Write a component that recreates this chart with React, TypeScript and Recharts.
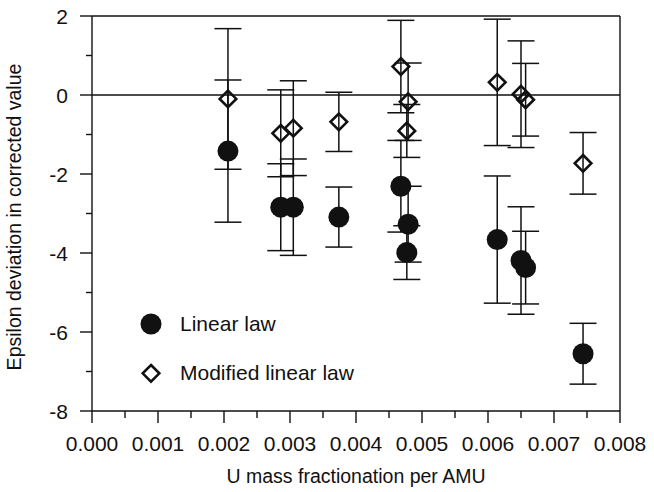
import {
    ScatterChart,
    Scatter,
    XAxis,
    YAxis,
    ErrorBar,
    ReferenceLine,
    Legend,
} from "recharts";

const FONT = '"Liberation Sans", Arial, sans-serif';
const INK = "#111";

// fractionation per AMU for each run
const X_VALUES = [0.00206, 0.00286, 0.00305, 0.00374, 0.00468, 0.00477, 0.00479, 0.00614, 0.0065, 0.00657, 0.00744];

const LINEAR = [-1.42, -2.84, -2.84, -3.09, -2.31, -3.99, -3.27, -3.66, -4.19, -4.37, -6.55];
const LINEAR_ERR = [1.8, 1.1, 1.22, 0.76, 1.16, 0.68, 0.96, 1.61, 1.36, 0.92, 0.77];

const MODIFIED = [-0.1, -0.97, -0.84, -0.68, 0.72, -0.91, -0.17, 0.32, 0.02, -0.12, -1.73];
const MODIFIED_ERR = [1.78, 1.1, 1.2, 0.75, 1.17, 0.67, 0.98, 1.6, 1.35, 0.92, 0.78];

const X_TICKS = [0, 0.0005, 0.001, 0.0015, 0.002, 0.0025, 0.003, 0.0035, 0.004, 0.0045, 0.005, 0.0055, 0.006, 0.0065, 0.007, 0.0075, 0.008];
const Y_TICKS = [-8, -7, -6, -5, -4, -3, -2, -1, 0, 1, 2];

const linearData = X_VALUES.map((x, i) => ({ x, y: LINEAR[i], err: LINEAR_ERR[i] }));
const modifiedData = X_VALUES.map((x, i) => ({ x, y: MODIFIED[i], err: MODIFIED_ERR[i] }));

const Dot = ({ cx, cy }: any) => <circle cx={cx} cy={cy} r={10.5} fill={INK} />;

const Diamond = ({ cx, cy }: any) => {
    const s = 8.3;
    return (
        <path
            d={`M${cx},${cy - s} L${cx + s},${cy} L${cx},${cy + s} L${cx - s},${cy} Z`}
            fill="none"
            stroke={INK}
            strokeWidth={2.6}
        />
    );
};

const XTick = ({ x, y, payload }: any) => {
    const major = Math.round(payload.value * 10000) % 10 === 0;
    return (
        <g>
            <line x1={x} x2={x} y1={y} y2={y + (major ? 12 : 7)} stroke={INK} strokeWidth={1.4} />
            {major && (
                <text x={x} y={y + 40} textAnchor="middle" fontSize={21} fontFamily={FONT} fill={INK}>
                    {payload.value.toFixed(3)}
                </text>
            )}
        </g>
    );
};

const YTick = ({ x, y, payload }: any) => {
    const major = payload.value % 2 === 0;
    return (
        <g>
            <line x1={x - (major ? 12 : 6)} x2={x} y1={y} y2={y} stroke={INK} strokeWidth={1.4} />
            {major && (
                <text x={x - 24} y={y + 7.5} textAnchor="end" fontSize={21} fontFamily={FONT} fill={INK}>
                    {payload.value}
                </text>
            )}
        </g>
    );
};

const LegendBox = () => (
    <svg width={260} height={90}>
        <circle cx={16} cy={19} r={10.5} fill={INK} />
        <text x={45} y={26} fontSize={21} fontFamily={FONT} fill={INK}>
            Linear law
        </text>
        <path d="M16,60 L24.3,68.3 L16,76.6 L7.7,68.3 Z" fill="none" stroke={INK} strokeWidth={2.6} />
        <text x={45} y={75} fontSize={21} fontFamily={FONT} fill={INK}>
            Modified linear law
        </text>
    </svg>
);

export default function App() {
    return (
        <div style={{ position: "absolute", left: 0, top: 0, background: "#fff" }}>
            <ScatterChart
                width={654}
                height={492}
                margin={{ top: 16, right: 34, bottom: 0, left: 0 }}
            >
                <XAxis
                    type="number"
                    dataKey="x"
                    domain={[0, 0.008]}
                    ticks={X_TICKS}
                    interval={0}
                    height={81}
                    tickSize={0}
                    tickMargin={0}
                    tickLine={false}
                    axisLine={{ stroke: INK, strokeWidth: 1.4 }}
                    tick={(p: any) => <XTick {...p} />}
                    label={() => (
                        <text x={356} y={483} textAnchor="middle" fontSize={19.5} fontFamily={FONT} fill={INK}>
                            U mass fractionation per AMU
                        </text>
                    )}
                />
                <YAxis
                    type="number"
                    dataKey="y"
                    domain={[-8, 2]}
                    ticks={Y_TICKS}
                    interval={0}
                    width={92}
                    tickSize={0}
                    tickMargin={0}
                    tickLine={false}
                    axisLine={{ stroke: INK, strokeWidth: 1.4 }}
                    tick={(p: any) => <YTick {...p} />}
                    label={() => (
                        <text
                            x={21}
                            y={217}
                            transform="rotate(-90 21 217)"
                            textAnchor="middle"
                            fontSize={19.5}
                            fontFamily={FONT}
                            fill={INK}
                        >
                            Epsilon deviation in corrected value
                        </text>
                    )}
                />
                <ReferenceLine y={2} stroke={INK} strokeWidth={1.4} />
                <ReferenceLine x={0.008} stroke={INK} strokeWidth={1.4} />
                <ReferenceLine y={0} stroke={INK} strokeWidth={1.4} />
                <Legend
                    layout="vertical"
                    align="center"
                    verticalAlign="middle"
                    content={() => <LegendBox />}
                    wrapperStyle={{ left: 135, top: 305, width: 260 }}
                />
                <Scatter
                    name="Linear law"
                    data={linearData}
                    shape={(p: any) => <Dot {...p} />}
                    isAnimationActive={false}
                >
                    <ErrorBar dataKey="err" direction="y" width={13.5} stroke={INK} strokeWidth={1.5} />
                </Scatter>
                <Scatter
                    name="Modified linear law"
                    data={modifiedData}
                    shape={(p: any) => <Diamond {...p} />}
                    isAnimationActive={false}
                >
                    <ErrorBar dataKey="err" direction="y" width={13.5} stroke={INK} strokeWidth={1.5} />
                </Scatter>
            </ScatterChart>
        </div>
    );
}
